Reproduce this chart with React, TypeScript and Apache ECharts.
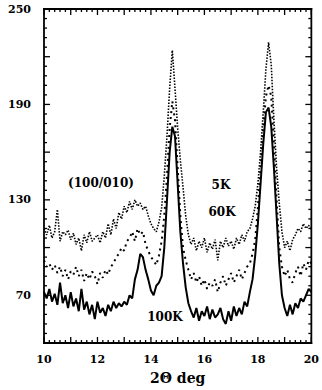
import React, { useEffect, useRef } from "react";
import * as echarts from "echarts";

const xValues: number[] = Array.from({ length: 101 }, (_, i) => Math.round((10 + i * 0.1) * 10) / 10);

const k5: number[] = [
  112, 108, 114, 106, 110, 124, 104, 110, 108, 111,
  105, 109, 102, 106, 98, 108, 103, 110, 104, 106,
  108, 103, 110, 106, 115, 108, 118, 112, 122, 118,
  126, 122, 129, 124, 130, 126, 128, 124, 126, 120,
  115, 112, 110, 116, 125, 145, 170, 200, 224, 200,
  175, 155, 138, 120, 108, 102, 106, 98, 104, 100,
  106, 97, 103, 99, 105, 92, 104, 100, 106, 101,
  104, 99, 106, 102, 108, 104, 110, 112, 118, 126,
  140, 160, 185, 212, 229, 215, 180, 150, 128, 110,
  100, 104, 98, 105, 108, 112, 110, 115, 112, 114,
  111,
];

const k60: number[] = [
  92, 88, 90, 86, 89, 84, 88, 82, 86, 80,
  85, 83, 88, 82, 86, 79, 84, 80, 85, 82,
  77, 84, 81, 86, 83, 88, 90, 94, 96, 100,
  98, 104, 106, 110, 104, 112, 108, 110, 102, 98,
  94, 92, 89, 95, 104, 120, 145, 175, 192, 180,
  150, 120, 100, 92, 86, 80, 84, 78, 82, 76,
  80, 74, 78, 76, 80, 72, 78, 82, 76, 80,
  84, 78, 82, 86, 80, 84, 88, 90, 96, 105,
  125, 150, 175, 195, 202, 195, 165, 130, 100, 88,
  82, 86, 80, 78, 84, 88, 82, 90, 86, 92,
  90,
];

const k100: number[] = [
  72, 68, 74, 66, 71, 64, 78, 65, 70, 62,
  72, 63, 68, 60, 74, 61, 66, 58, 64, 55,
  66, 59, 62, 57, 64, 60, 66, 62, 65, 63,
  66, 64, 70, 68, 80, 86, 96, 94, 86, 80,
  73, 70, 76, 78, 82, 100, 130, 160, 176, 170,
  140, 110, 90, 75, 65, 60, 56, 62, 54, 60,
  57, 63, 55, 61, 56, 58, 62, 55, 52, 60,
  54, 63, 57, 62, 58, 66, 63, 72, 80, 95,
  115, 140, 165, 185, 188, 176, 150, 120, 90, 70,
  62, 57, 64, 58, 65, 62, 68, 66, 70, 74,
  72,
];

const yLabelValues: number[] = [70, 130, 190, 250];
const xLabelValues: number[] = [10, 12, 14, 16, 18, 20];
const X_MIN = 10;
const X_MAX = 20;
const Y_MIN = 40;
const Y_MAX = 250;

// tick positions (minor every 0.2 on x, every 6 on y; major every 1 and every 30)
const xTicks: number[][] = Array.from({ length: 51 }, (_, i) => {
  const v = Math.round((X_MIN + i * 0.2) * 10) / 10;
  return [v, Y_MIN, i % 5 === 0 ? 1 : 0];
});
const yTicks: number[][] = Array.from({ length: 36 }, (_, i) => {
  const v = Y_MIN + i * 6;
  return [X_MIN, v, i % 5 === 0 ? 1 : 0];
});

const FONT = "DejaVu Serif";

export default function App() {
  const ref = useRef<HTMLDivElement>(null);
  useEffect(() => {
    document.body.style.margin = "0";
    if (!ref.current) return;
    const chart = echarts.init(ref.current, undefined, { renderer: "svg" });
    const pairs = (arr: number[]) => arr.map((v, i) => [xValues[i], v]);
    const TW = 1.3;
    const FW = 1.8;
    chart.setOption({
      animation: false,
      grid: { left: 44, right: 9, top: 9, bottom: 45, containLabel: false },
      xAxis: {
        type: "value",
        min: X_MIN,
        max: X_MAX,
        interval: 1,
        axisLine: { show: false },
        axisTick: { show: false },
        splitLine: { show: false },
        axisLabel: {
          margin: 11,
          fontFamily: FONT,
          fontWeight: "bold",
          fontSize: 11,
          color: "#000",
          formatter: (v: number) => (xLabelValues.includes(v) ? String(v) : ""),
        },
        name: "2\u0398 deg",
        nameLocation: "middle",
        nameGap: 28,
        nameTextStyle: { fontFamily: FONT, fontWeight: "bold", fontSize: 14, color: "#000" },
      },
      yAxis: {
        type: "value",
        min: Y_MIN,
        max: Y_MAX,
        interval: 30,
        axisLine: { show: false },
        axisTick: { show: false },
        splitLine: { show: false },
        axisLabel: {
          margin: 13,
          fontFamily: FONT,
          fontWeight: "bold",
          fontSize: 11,
          color: "#000",
          formatter: (v: number) => (yLabelValues.includes(v) ? String(v) : ""),
        },
      },
      series: [
        {
          name: "5K",
          type: "line",
          data: pairs(k5),
          symbol: "none",
          lineStyle: { color: "#000", width: 1.6, type: [1.5, 1.5] },
        },
        {
          name: "60K",
          type: "line",
          data: pairs(k60),
          symbol: "none",
          lineStyle: { color: "#000", width: 2, type: [2, 4] },
        },
        {
          name: "100K",
          type: "line",
          data: pairs(k100),
          symbol: "none",
          lineStyle: { color: "#000", width: 2 },
        },
        {
          name: "xTicks",
          type: "custom",
          silent: true,
          clip: false,
          z: 10,
          data: xTicks,
          renderItem: (_p: any, api: any) => {
            const x = api.coord([api.value(0), Y_MIN])[0];
            const yb = api.coord([X_MIN, Y_MIN])[1];
            const yt = api.coord([X_MIN, Y_MAX])[1];
            const len = api.value(2) ? 6 : 3;
            return {
              type: "group",
              children: [
                { type: "rect", shape: { x: x - TW / 2, y: yb - len, width: TW, height: len }, style: { fill: "#000" } },
                { type: "rect", shape: { x: x - TW / 2, y: yt, width: TW, height: len }, style: { fill: "#000" } },
              ],
            };
          },
        },
        {
          name: "yTicks",
          type: "custom",
          silent: true,
          clip: false,
          z: 10,
          data: yTicks,
          renderItem: (_p: any, api: any) => {
            const y = api.coord([X_MIN, api.value(1)])[1];
            const xl = api.coord([X_MIN, Y_MIN])[0];
            const xr = api.coord([X_MAX, Y_MIN])[0];
            const len = api.value(2) ? 6 : 3;
            return {
              type: "group",
              children: [
                { type: "rect", shape: { x: xl, y: y - TW / 2, width: len, height: TW }, style: { fill: "#000" } },
                { type: "rect", shape: { x: xr - len, y: y - TW / 2, width: len, height: TW }, style: { fill: "#000" } },
              ],
            };
          },
        },
        {
          name: "frame",
          type: "custom",
          silent: true,
          clip: false,
          z: 11,
          data: [[X_MIN, Y_MIN, X_MAX, Y_MAX]],
          renderItem: (_p: any, api: any) => {
            const [x0, y0] = api.coord([api.value(0), api.value(1)]);
            const [x1, y1] = api.coord([api.value(2), api.value(3)]);
            const w = x1 - x0;
            const h = y0 - y1;
            return {
              type: "group",
              children: [
                { type: "rect", shape: { x: x0 - FW / 2, y: y1 - FW / 2, width: w + FW, height: FW }, style: { fill: "#000" } },
                { type: "rect", shape: { x: x0 - FW / 2, y: y0 - FW / 2, width: w + FW, height: FW }, style: { fill: "#000" } },
                { type: "rect", shape: { x: x0 - FW / 2, y: y1 - FW / 2, width: FW, height: h + FW }, style: { fill: "#000" } },
                { type: "rect", shape: { x: x1 - FW / 2, y: y1 - FW / 2, width: FW, height: h + FW }, style: { fill: "#000" } },
              ],
            };
          },
        },
      ],
      graphic: [
        { type: "text", x: 101, y: 183, style: { text: "(100/010)", fill: "#000", font: `bold 12px '${FONT}'`, align: "center", verticalAlign: "middle" } },
        { type: "text", x: 221, y: 185, style: { text: "5K", fill: "#000", font: `bold 12px '${FONT}'`, align: "center", verticalAlign: "middle" } },
        { type: "text", x: 222, y: 212, style: { text: "60K", fill: "#000", font: `bold 12px '${FONT}'`, align: "center", verticalAlign: "middle" } },
        { type: "text", x: 165, y: 317, style: { text: "100K", fill: "#000", font: `bold 12px '${FONT}'`, align: "center", verticalAlign: "middle" } },
      ],
    });
    return () => chart.dispose();
  }, []);
  return <div ref={ref} style={{ width: 322, height: 390 }} />;
}
